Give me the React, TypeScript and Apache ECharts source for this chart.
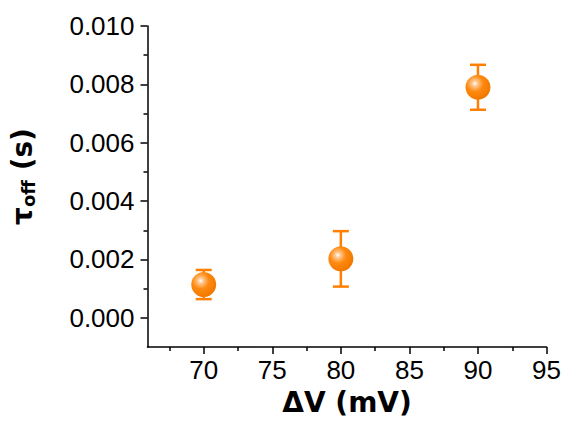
import React, { useEffect, useRef } from "react";
import * as echarts from "echarts";

const xValues = [70, 80, 90];
const yValues = [0.00114, 0.00202, 0.0079];
const yErrors = [0.0005, 0.00095, 0.00077];
const xMajor = [70, 75, 80, 85, 90, 95];
const xMinor = [67.5, 72.5, 77.5, 82.5, 87.5, 92.5];
const yMajor = [0, 0.002, 0.004, 0.006, 0.008, 0.01];
const yMinor = [0.001, 0.003, 0.005, 0.007, 0.009];

const ORANGE = "#ff7f00";

export default function App() {
  const ref = useRef<HTMLDivElement>(null);
  useEffect(() => {
    if (!ref.current) return;
    const chart = echarts.init(ref.current, undefined, { renderer: "svg" });
    const tickFont = { fontFamily: "Liberation Sans, Arial, sans-serif", fontSize: 26, color: "#000" };
    const axisLine = { show: true, onZero: false, lineStyle: { color: "#000", width: 1.5 } };
    const grad = new echarts.graphic.RadialGradient(0.38, 0.35, 0.65, [
      { offset: 0, color: "#ffffff" },
      { offset: 0.18, color: "#ffc48a" },
      { offset: 0.5, color: "#ff8a10" },
      { offset: 1, color: "#f07800" },
    ]);
    const points = xValues.map((x, i) => [x, yValues[i], yErrors[i]]);
    chart.setOption({
      animation: false,
      grid: { left: 147, right: 17, top: 26, bottom: 80 },
      xAxis: [
        {
          type: "value",
          min: 65.9,
          max: 95,
          splitLine: { show: false },
          axisLine,
          axisTick: { show: true, length: 7, customValues: xMajor, lineStyle: { color: "#000", width: 1.5 } },
          axisLabel: { ...tickFont, margin: 10, customValues: xMajor, formatter: (v: number) => String(v) },
          name: "ΔV (mV)",
          nameLocation: "middle",
          nameGap: 41,
          nameTextStyle: { fontFamily: "DejaVu Sans", fontWeight: "bold", fontSize: 28, color: "#000" },
        },
        {
          type: "value",
          position: "bottom",
          min: 65.9,
          max: 95,
          splitLine: { show: false },
          axisLine: { show: false, onZero: false },
          axisTick: { show: true, length: 4, customValues: xMinor, lineStyle: { color: "#000", width: 1.5 } },
          axisLabel: { show: false },
        },
      ],
      yAxis: [
        {
          type: "value",
          min: -0.001,
          max: 0.01,
          interval: 0.001,
          splitLine: { show: false },
          axisLine,
          axisTick: { show: true, length: 7, customValues: yMajor, lineStyle: { color: "#000", width: 1.5 } },
          axisLabel: { ...tickFont, margin: 13, customValues: yMajor, formatter: (v: number) => v.toFixed(3) },
          name: "{t|τ}{s|off}{t| (s)}",
          nameLocation: "middle",
          nameGap: 110,
          nameRotate: 90,
          nameTextStyle: {
            padding: [0, 0, 0, 20],
            rich: {
              t: { fontFamily: "DejaVu Sans", fontWeight: "bold", fontSize: 28, color: "#000" },
              s: { fontFamily: "DejaVu Sans", fontWeight: "bold", fontSize: 18, color: "#000", padding: [13, 0, 0, 0] },
            },
          },
        },
        {
          type: "value",
          position: "left",
          min: -0.001,
          max: 0.01,
          interval: 0.001,
          splitLine: { show: false },
          axisLine: { show: false, onZero: false },
          axisTick: { show: true, length: 4, customValues: yMinor, lineStyle: { color: "#000", width: 1.5 } },
          axisLabel: { show: false },
        },
      ],
      series: [
        {
          type: "custom",
          xAxisIndex: 0,
          yAxisIndex: 0,
          data: points,
          z: 2,
          renderItem: (params: any, api: any) => {
            const x = api.value(0);
            const y = api.value(1);
            const e = api.value(2);
            const top = api.coord([x, y + e]);
            const bot = api.coord([x, y - e]);
            const hw = 8;
            const style = { stroke: ORANGE, lineWidth: 2.5, fill: "none" };
            return {
              type: "group",
              children: [
                { type: "line", shape: { x1: top[0], y1: top[1], x2: bot[0], y2: bot[1] }, style },
                { type: "line", shape: { x1: top[0] - hw, y1: top[1], x2: top[0] + hw, y2: top[1] }, style },
                { type: "line", shape: { x1: bot[0] - hw, y1: bot[1], x2: bot[0] + hw, y2: bot[1] }, style },
              ],
            };
          },
        },
        {
          type: "scatter",
          xAxisIndex: 0,
          yAxisIndex: 0,
          data: points.map((p) => [p[0], p[1]]),
          symbol: "circle",
          symbolSize: 25,
          z: 3,
          itemStyle: { color: grad, opacity: 1 },
        },
      ],
    });
    return () => chart.dispose();
  }, []);
  return <div ref={ref} style={{ width: 564, height: 427, position: "absolute", left: 0, top: 0, background: "#fff" }} />;
}
